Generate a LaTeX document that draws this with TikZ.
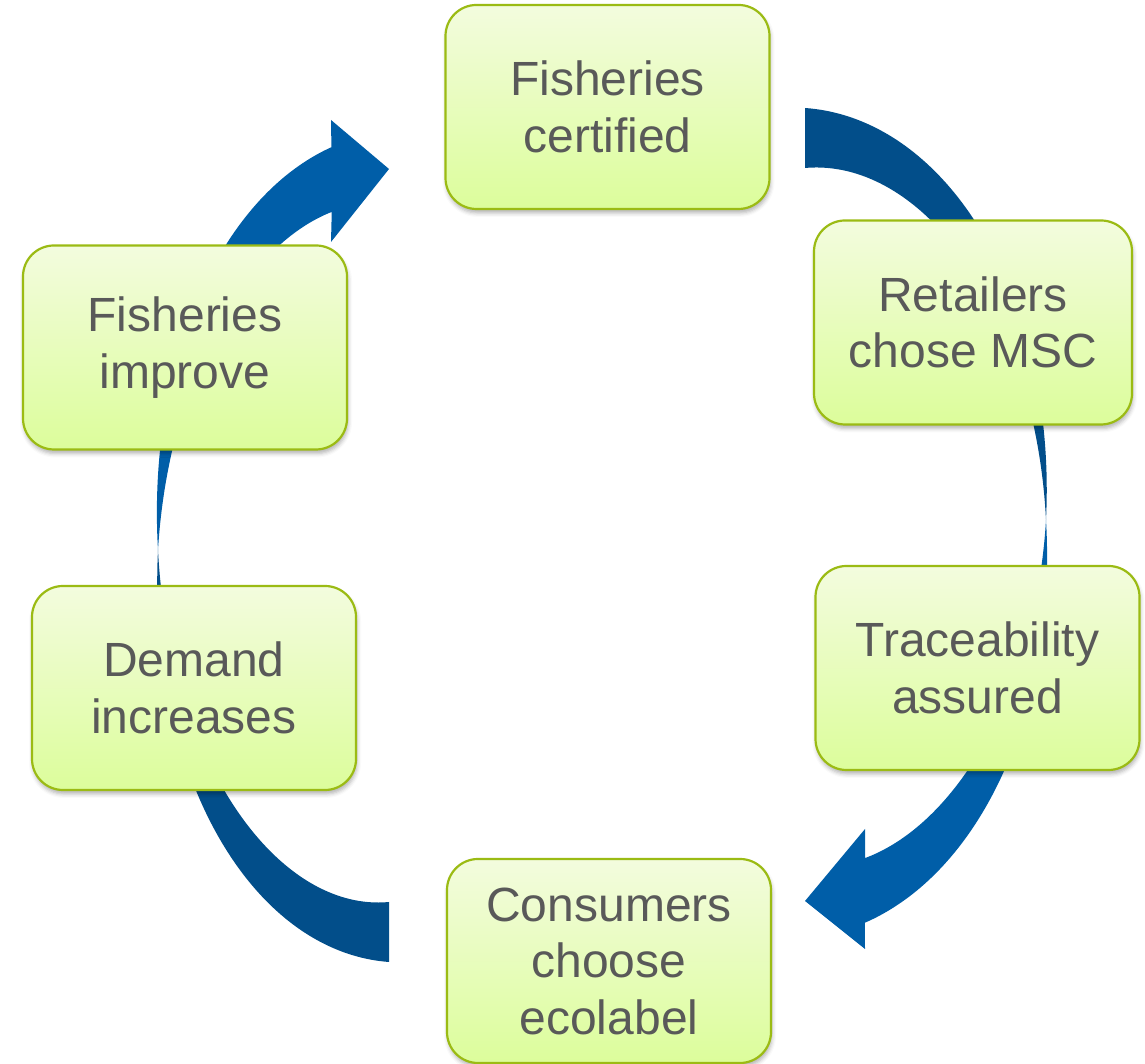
\documentclass[tikz,border=0pt]{standalone}
\usepackage{fontspec}
\setmainfont{Liberation Sans}
\usepackage{tikz}
\usetikzlibrary{positioning}
\usetikzlibrary{shadows.blur}
\definecolor{boxtop}{RGB}{243,252,222}
\definecolor{boxbottom}{RGB}{220,253,155}
\definecolor{boxborder}{RGB}{155,187,20}
\definecolor{txtgray}{RGB}{89,89,89}
\definecolor{ribbondark}{RGB}{2,78,138}
\definecolor{ribbonlight}{RGB}{0,94,168}
\tikzset{stage node/.style={rectangle,rounded corners=31pt,draw=boxborder,line width=2.2pt,
    top color=boxtop,bottom color=boxbottom,text=txtgray,align=center,
    minimum width=324pt,minimum height=204pt,inner sep=0pt,
    font=\fontsize{48}{56.5}\selectfont,
    blur shadow={shadow xshift=1pt,shadow yshift=-4pt,shadow blur radius=4pt,shadow opacity=30}},}

\begin{document}
\begin{tikzpicture}[x=1pt,y=1pt]
    \useasboundingbox (0,0) rectangle (1145,1064);

    % right ribbon: certified -> consumers
    \begin{scope}[shift={(805,544)},samples=90]
    \fill[ribbondark] plot[domain=90:0] ({(241+\x/3)*cos(\x)},{(382+\x/3)*sin(\x)})
        -- plot[domain=0:90] ({(241-\x/3)*cos(\x)},{(382-\x/3)*sin(\x)}) -- cycle;
    \fill[ribbonlight] plot[domain=0:-77.3] ({(241-0.4*\x)*cos(\x)},{(382-0.4*\x)*sin(\x)})
        -- (60,-429) -- (0,-381) -- (60,-309)
        -- plot[domain=-73.5:0] ({(241+0.4*\x)*cos(\x)},{(382+0.4*\x)*sin(\x)}) -- cycle;
    \end{scope}

    % left ribbon: consumers -> certified
    \begin{scope}[shift={(389,514)},samples=90]
    \fill[ribbondark] plot[domain=270:180] ({(231+(\x-180)/3)*cos(\x)},{(382+(\x-180)/3)*sin(\x)})
        -- plot[domain=180:270] ({(231-(\x-180)/3)*cos(\x)},{(382-(\x-180)/3)*sin(\x)}) -- cycle;
    \fill[ribbonlight] plot[domain=180:102.7] ({(231+0.4*(180-\x))*cos(\x)},{(382+0.4*(180-\x))*sin(\x)})
        -- (-58,430) -- (0,381) -- (-58,308)
        -- plot[domain=106.5:180] ({(231-0.4*(180-\x))*cos(\x)},{(382-0.4*(180-\x))*sin(\x)}) -- cycle;
    \end{scope}

    \node[stage node] (certified) at (607.5,957) {Fisheries\\certified};
    \node[stage node,minimum width=318pt] (retailers) at (973,741.5) {Retailers\\chose MSC};
    \node[stage node] (traceability) at (977.5,396) {Traceability\\assured};
    \node[stage node] (consumers) at (609,103) {Consumers\\choose\\ecolabel};
    \node[stage node] (demand) at (194,376) {Demand\\increases};
    \node[stage node] (improve) at (185,716.5) {Fisheries\\improve};
\end{tikzpicture}
\end{document}
